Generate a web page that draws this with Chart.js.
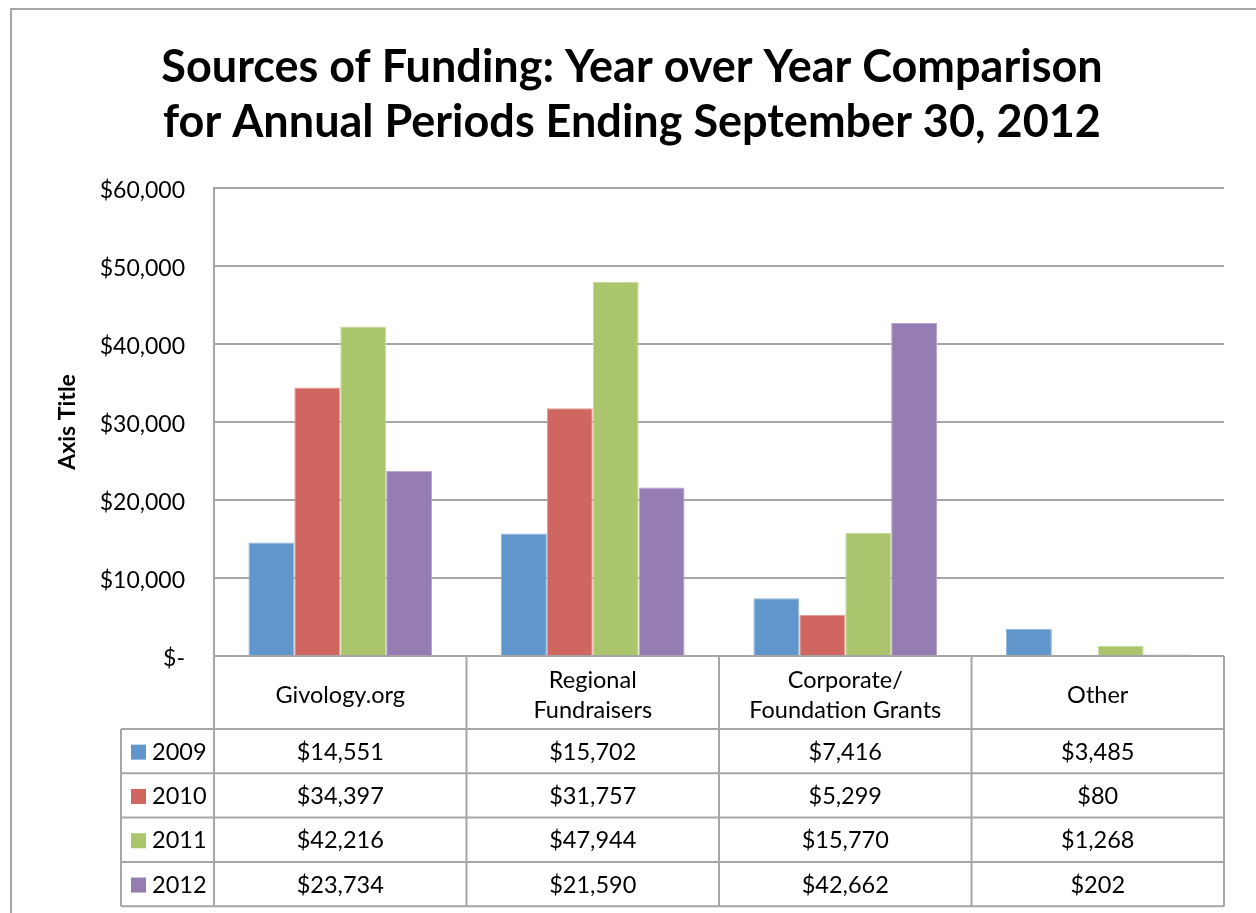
<!DOCTYPE html>
<html><head><meta charset="utf-8">
<script src="https://cdn.jsdelivr.net/npm/chart.js@4"></script>
<style>html,body{margin:0;padding:0;background:#fff}#wrap{width:1256px;height:913px;position:relative}</style>
</head><body><div id="wrap"><canvas id="c" width="1256" height="913"></canvas></div>
<script>
const titleLines = ["Sources of Funding: Year over Year Comparison", "for Annual Periods Ending September 30, 2012"];
const yAxisTitle = "Axis Title";
const categories = [["Givology.org"], ["Regional", "Fundraisers"], ["Corporate/", "Foundation Grants"], ["Other"]];
const years = ["2009", "2010", "2011", "2012"];
const values2009 = [14551, 15702, 7416, 3485];
const values2010 = [34397, 31757, 5299, 80];
const values2011 = [42216, 47944, 15770, 1268];
const values2012 = [23734, 21590, 42662, 202];
const yMin = 0, yMax = 60000, yStep = 10000;
const fillColors = ["#6096cb", "#cf665f", "#abc56d", "#957cb2"];
const edgeColors = ["#8fb5dc", "#e09a95", "#c9dca0", "#b7a6cc"];

const FONT = "Lato, 'Open Sans', sans-serif";
const GRID = "#a6a6a6";
const seriesValues = [values2009, values2010, values2011, values2012];
const money = v => v === 0 ? "$-" : "$" + v.toLocaleString("en-US");

const tablePlugin = {
  id: "dataTable",
  beforeDraw(chart) {
    const ctx = chart.ctx;
    ctx.save();
    ctx.strokeStyle = GRID; ctx.lineWidth = 2;
    ctx.beginPath();
    ctx.moveTo(11, 913); ctx.lineTo(11, 9); ctx.lineTo(1256, 9);
    ctx.stroke();
    ctx.restore();
  },
  afterDraw(chart) {
    const ctx = chart.ctx, ca = chart.chartArea, xs = chart.scales.x;
    const n = categories.length;
    const half = (ca.right - ca.left) / n / 2;
    const top = ca.bottom, headBottom = top + 73, rowH = 44.3;
    const bottom = headBottom + rowH * years.length;
    const leftX = 121;
    ctx.save();
    ctx.strokeStyle = GRID; ctx.lineWidth = 2;
    ctx.beginPath();
    for (let i = 0; i < n; i++) {
      const cx = xs.getPixelForValue(i);
      if (i === 0) { ctx.moveTo(cx - half, top); ctx.lineTo(cx - half, bottom); }
      ctx.moveTo(cx + half, top); ctx.lineTo(cx + half, bottom);
    }
    ctx.moveTo(leftX, headBottom); ctx.lineTo(leftX, bottom);
    ctx.moveTo(ca.left, top); ctx.lineTo(ca.right, top);
    for (let r = 0; r <= years.length; r++) {
      const y = headBottom + r * rowH;
      ctx.moveTo(leftX, y); ctx.lineTo(ca.right, y);
    }
    ctx.stroke();
    ctx.fillStyle = "#000";
    ctx.font = "23.5px " + FONT;
    ctx.textAlign = "center"; ctx.textBaseline = "middle";
    const headMid = (top + headBottom) / 2 + 3;
    categories.forEach((lines, i) => {
      const cx = xs.getPixelForValue(i);
      const lh = 30;
      lines.forEach((t, k) => {
        ctx.fillText(t, cx, headMid + (k - (lines.length - 1) / 2) * lh);
      });
    });
    years.forEach((yr, r) => {
      const yMid = headBottom + r * rowH + rowH / 2 + 1;
      ctx.fillStyle = fillColors[r];
      ctx.fillRect(131, yMid - 7.5, 15, 15);
      ctx.fillStyle = "#000";
      ctx.textAlign = "left";
      ctx.fillText(yr, 152, yMid);
      ctx.textAlign = "center";
      seriesValues[r].forEach((v, i) => {
        ctx.fillText(money(v), xs.getPixelForValue(i), yMid);
      });
    });
    ctx.restore();
  }
};

new Chart(document.getElementById("c"), {
  type: "bar",
  data: {
    labels: categories,
    datasets: years.map((yr, i) => ({
      label: yr,
      data: seriesValues[i],
      backgroundColor: fillColors[i],
      borderColor: edgeColors[i],
      borderWidth: 1,
      categoryPercentage: 4 / 5.5,
      barPercentage: 1
    }))
  },
  options: {
    responsive: false,
    devicePixelRatio: 1,
    animation: false,
    layout: { padding: { left: 40, right: 32, top: 40, bottom: 0 } },
    plugins: {
      legend: { display: false },
      tooltip: { enabled: false },
      title: {
        display: true,
        text: titleLines,
        color: "#000",
        font: { family: FONT, size: 45, weight: "bold", lineHeight: 1.22 },
        padding: { top: 0, bottom: 38 }
      }
    },
    scales: {
      x: {
        ticks: { display: false },
        grid: { display: false },
        border: { display: false },
        afterFit(scale) { scale.height = 913 - 656; }
      },
      y: {
        min: yMin, max: yMax,
        ticks: {
          stepSize: yStep,
          color: "#000",
          font: { family: FONT, size: 23 },
          padding: 29,
          labelOffset: 3,
          callback: v => money(v)
        },
        grid: { color: GRID, lineWidth: 2, drawTicks: false },
        border: { color: GRID, width: 2 },
        title: {
          display: true, text: yAxisTitle, color: "#000",
          font: { family: FONT, size: 23, weight: "bold", lineHeight: 1.2 },
          padding: { top: 14, bottom: 0 }
        },
        afterFit(scale) { scale.width = 214 - 40; }
      }
    }
  },
  plugins: [tablePlugin]
});
</script>
</body></html>
